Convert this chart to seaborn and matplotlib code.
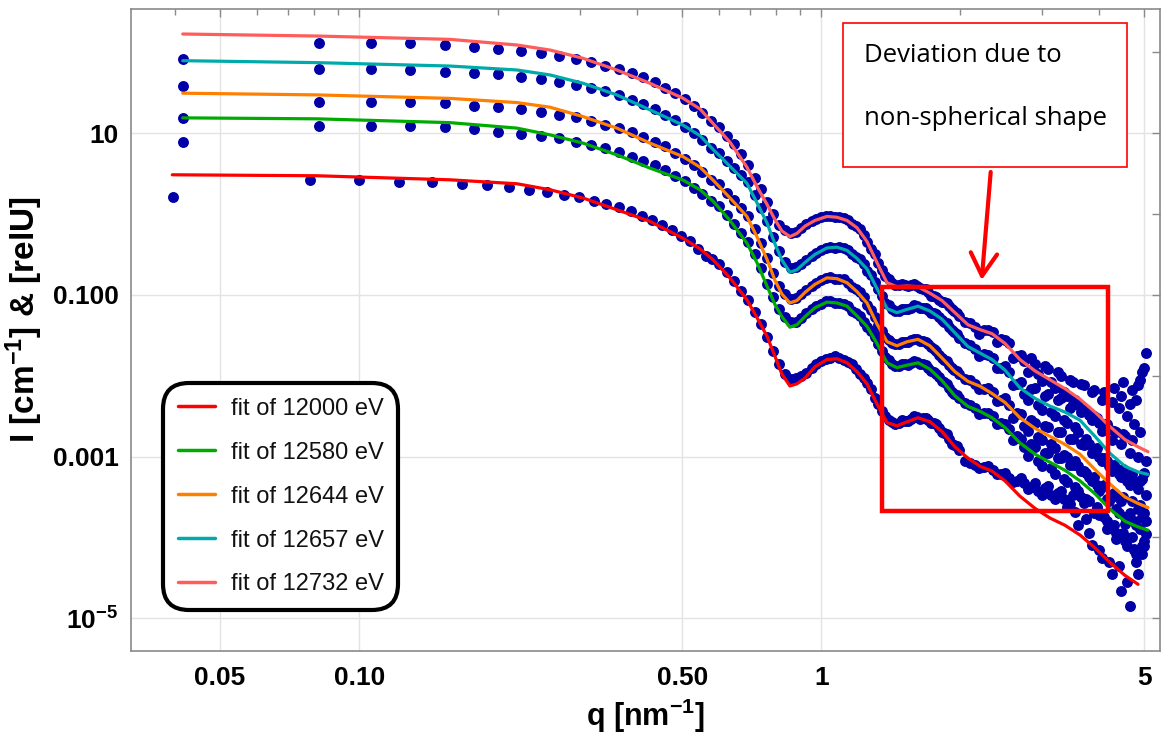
import numpy as np
import pandas as pd
import matplotlib
matplotlib.use("Agg")
import matplotlib.pyplot as plt
import seaborn as sns
from matplotlib.patches import Rectangle, FancyArrowPatch
from matplotlib.ticker import FixedLocator, FixedFormatter, NullFormatter

# ---------------- data ----------------
energies = ["12000", "12580", "12644", "12657", "12732"]
fit_labels = [f"fit of {e} eV" for e in energies]
fit_colors = ["#FF0000", "#00AA00", "#FF8000", "#00AAAA", "#FF5C5C"]

# fit curves: q [nm^-1] and log10(I)
fit_q = [0.0415, 0.0810, 0.157, 0.2195, 0.2587, 0.305, 0.361, 0.4257, 0.502, 0.5463,
         0.583, 0.6343, 0.6904, 0.7257, 0.763, 0.794, 0.822, 0.8555, 0.886, 0.922,
         0.969, 1.0287, 1.081, 1.137, 1.195, 1.256, 1.320, 1.388, 1.458, 1.533,
         1.620, 1.719, 1.825, 1.947, 2.078, 2.206, 2.342, 2.498, 2.692, 2.901,
         3.126, 3.370, 3.631, 3.913, 4.217, 4.544, 4.850, 5.095]
red_fit_q = [0.0394] + fit_q[1:47]

fit_red = [0.485, 0.473, 0.423, 0.374, 0.300, 0.198, 0.053, -0.091, -0.30, -0.43,
           -0.565, -0.79, -1.06, -1.28, -1.51, -1.76, -1.98, -2.127, -2.10, -2.03,
           -1.89, -1.80, -1.79, -1.84, -1.95, -2.10, -2.35, -2.58, -2.62, -2.57,
           -2.52, -2.57, -2.69, -2.88, -3.02, -3.12, -3.18, -3.30, -3.49, -3.64,
           -3.76, -3.85, -3.97, -4.13, -4.31, -4.47, -4.58]
fit_green = [1.189, 1.177, 1.13, 1.062, 0.979, 0.877, 0.732, 0.568, 0.42, 0.30,
             0.16, -0.08, -0.36, -0.60, -0.89, -1.12, -1.27, -1.40, -1.37, -1.27,
             -1.16, -1.09, -1.10, -1.14, -1.26, -1.39, -1.60, -1.84, -1.90, -1.87,
             -1.84, -1.92, -2.06, -2.25, -2.38, -2.44, -2.52, -2.64, -2.83, -2.97,
             -3.07, -3.17, -3.30, -3.46, -3.65, -3.80, -3.87, -3.91]
fit_orange = [1.494, 1.473, 1.43, 1.378, 1.321, 1.205, 1.062, 0.877, 0.71, 0.58,
              0.42, 0.20, -0.03, -0.28, -0.56, -0.82, -0.99, -1.10, -1.07, -0.97,
              -0.87, -0.79, -0.80, -0.85, -0.96, -1.10, -1.36, -1.58, -1.63, -1.58,
              -1.55, -1.63, -1.78, -1.95, -2.07, -2.13, -2.22, -2.33, -2.52, -2.65,
              -2.75, -2.85, -2.97, -3.16, -3.34, -3.50, -3.58, -3.63]
fit_cyan = [1.896, 1.872, 1.83, 1.781, 1.72, 1.617, 1.473, 1.288, 1.10, 0.97,
            0.80, 0.59, 0.38, 0.14, -0.11, -0.37, -0.57, -0.72, -0.69, -0.60,
            -0.50, -0.42, -0.41, -0.45, -0.55, -0.68, -0.92, -1.17, -1.22, -1.18,
            -1.14, -1.20, -1.30, -1.47, -1.64, -1.72, -1.80, -1.93, -2.15, -2.28,
            -2.375, -2.45, -2.55, -2.75, -2.96, -3.12, -3.19, -3.22]
fit_pink = [2.226, 2.201, 2.16, 2.09, 2.028, 1.926, 1.781, 1.617, 1.432, 1.30,
            1.12, 0.89, 0.58, 0.34, 0.12, -0.07, -0.21, -0.28, -0.24, -0.15,
            -0.08, -0.03, -0.04, -0.08, -0.17, -0.34, -0.60, -0.85, -0.90, -0.89,
            -0.90, -0.98, -1.07, -1.22, -1.37, -1.43, -1.48, -1.60, -1.80, -1.94,
            -2.05, -2.16, -2.29, -2.45, -2.63, -2.79, -2.88, -2.94]

# measured data points: q [nm^-1] and log10(I)
data_q = [0.0415, 0.0818, 0.106, 0.129, 0.153, 0.177, 0.200, 0.224, 0.247, 0.271,
          0.294, 0.318, 0.341, 0.365, 0.389, 0.412, 0.436, 0.459, 0.483, 0.506,
          0.530, 0.553, 0.577,
          0.600, 0.624, 0.647, 0.671, 0.694, 0.718, 0.741, 0.765, 0.788, 0.812,
          0.835, 0.859, 0.882, 0.906, 0.929, 0.953, 0.976, 1.000, 1.047, 1.094,
          1.141, 1.188, 1.235, 1.282, 1.329, 1.376, 1.423, 1.470, 1.517, 1.564,
          1.611, 1.658, 1.705, 1.752, 1.799, 1.846, 1.893, 1.940, 1.987,
          2.05, 2.15, 2.25, 2.35, 2.45, 2.55, 2.65, 2.75, 2.85, 2.95,
          3.05, 3.15, 3.25, 3.35, 3.45, 3.55, 3.65, 3.75, 3.85, 3.95,
          4.05, 4.15, 4.25, 4.35, 4.45, 4.55, 4.65, 4.75, 4.85, 4.95, 5.05,
          1.024, 1.071, 1.118, 1.165, 1.212, 1.259, 1.306, 1.353, 1.400, 1.447,
          1.494, 1.541, 1.588, 1.635, 1.682, 1.729, 1.776, 1.823, 1.870, 1.917, 1.964,
          2.10, 2.20, 2.30, 2.40, 2.50, 2.60, 2.70, 2.80, 2.90, 3.00,
          3.10, 3.20, 3.30, 3.40, 3.50, 3.60, 3.70, 3.80, 3.90, 4.00,
          4.10, 4.20, 4.30, 4.40, 4.50, 4.60, 4.70, 4.80, 4.90, 5.00]
red_data_q = [0.0395, 0.0781, 0.100, 0.122, 0.144, 0.1667, 0.1888, 0.2109, 0.2328,
              0.2547, 0.2773, 0.2992, 0.3221, 0.3428, 0.3656, 0.3873, 0.410, 0.4305,
              0.4529, 0.4742, 0.4966, 0.520, 0.542, 0.562, 0.581] + data_q[23:]

data_red = [0.214, 0.415, 0.415, 0.40, 0.39, 0.374, 0.353, 0.333, 0.300, 0.272,
            0.238, 0.205, 0.164, 0.123, 0.081, 0.032, -0.021, -0.079, -0.141, -0.202,
            -0.268, -0.338, -0.432, -0.515, -0.56,
            -0.62, -0.72, -0.83, -0.95, -1.06, -1.21, -1.36, -1.52, -1.70, -1.86,
            -1.98, -2.04, -2.03, -2.00, -1.97, -1.91, -1.86, -1.82, -1.78, -1.78,
            -1.83, -1.92, -2.03, -2.17, -2.35, -2.50, -2.57, -2.58, -2.56, -2.53,
            -2.51, -2.52, -2.55, -2.59, -2.65, -2.71, -2.78, -2.86, -2.92,
            -3.06, -3.11, -3.13, -3.16, -3.21, -3.27, -3.30, -3.33, -3.38, -3.43,
            -3.39, -3.48, -3.45, -3.53, -3.59, -3.68, -3.50, -3.77, -4.09, -3.65,
            -4.26, -3.90, -4.45, -4.02, -4.66, -3.83, -4.85, -4.14, -4.45, -4.20, -3.96,
            -1.79, -1.76, -1.81, -1.86, -1.98, -2.09, -2.27, -2.44, -2.55, -2.60,
            -2.55, -2.56, -2.50, -2.53, -2.52, -2.59, -2.60, -2.70, -2.72, -2.84, -2.87,
            -3.08, -3.14, -3.12, -3.22, -3.20, -3.31, -3.26, -3.40, -3.33, -3.47,
            -3.36, -3.52, -3.42, -3.62, -3.48, -3.85, -3.58, -3.95, -3.70, -4.15,
            -3.75, -4.30, -3.85, -4.35, -3.95, -4.55, -4.00, -4.30, -3.90, -4.10]
data_green = [0.893, 1.094, 1.094, 1.09, 1.07, 1.049, 1.020, 0.995, 0.967, 0.938,
              0.896, 0.856, 0.815, 0.765, 0.711, 0.659, 0.600, 0.538, 0.473, 0.402,
              0.321, 0.247, 0.156,
              0.10, -0.01, -0.12, -0.24, -0.35, -0.50, -0.67, -0.86, -1.03, -1.18,
              -1.28, -1.34, -1.33, -1.29, -1.23, -1.18, -1.14, -1.11, -1.08, -1.10,
              -1.14, -1.23, -1.33, -1.45, -1.61, -1.77, -1.85, -1.88, -1.86, -1.84,
              -1.83, -1.86, -1.90, -1.96, -2.02, -2.08, -2.15, -2.22, -2.28,
              -2.34, -2.40, -2.46, -2.50, -2.58, -2.66, -2.75, -2.88, -2.85, -3.05,
              -2.96, -3.14, -3.02, -3.28, -3.10, -3.38, -3.18, -3.52, -3.30, -3.62,
              -3.38, -3.80, -3.50, -3.95, -3.55, -4.05, -3.70, -4.15, -3.65, -4.10, -3.80,
              -1.08, -1.10, -1.11, -1.20, -1.26, -1.40, -1.52, -1.70, -1.80, -1.88,
              -1.85, -1.87, -1.82, -1.86, -1.87, -1.94, -1.98, -2.06, -2.10, -2.20, -2.24,
              -2.36, -2.47, -2.46, -2.60, -2.60, -2.80, -2.78, -2.99, -2.88, -3.12,
              -2.96, -3.22, -3.02, -3.32, -3.10, -3.42, -3.18, -3.55, -3.25, -3.72,
              -3.35, -3.88, -3.45, -4.00, -3.50, -4.10, -3.55, -4.20, -3.60, -4.05]
data_orange = [1.189, 1.39, 1.39, 1.38, 1.37, 1.341, 1.321, 1.296, 1.263, 1.226,
               1.198, 1.156, 1.106, 1.062, 1.012, 0.958, 0.896, 0.835, 0.760, 0.679,
               0.609, 0.514, 0.423,
               0.37, 0.26, 0.17, 0.07, -0.03, -0.19, -0.36, -0.54, -0.73, -0.89,
               -0.99, -1.05, -1.04, -0.99, -0.94, -0.89, -0.85, -0.82, -0.78, -0.80,
               -0.85, -0.93, -1.03, -1.19, -1.37, -1.52, -1.59, -1.61, -1.58, -1.56,
               -1.55, -1.57, -1.61, -1.67, -1.74, -1.80, -1.87, -1.93, -1.98,
               -2.04, -2.10, -2.16, -2.20, -2.30, -2.36, -2.46, -2.62, -2.55, -2.76,
               -2.62, -2.85, -2.70, -2.98, -2.78, -3.06, -2.85, -3.20, -2.95, -3.35,
               -3.05, -3.52, -3.18, -3.65, -3.25, -3.75, -3.35, -3.80, -3.40, -3.75, -3.48,
               -0.79, -0.80, -0.81, -0.90, -0.97, -1.12, -1.27, -1.45, -1.56, -1.61,
               -1.58, -1.58, -1.54, -1.57, -1.58, -1.65, -1.69, -1.78, -1.82, -1.91, -1.94,
               -2.05, -2.17, -2.15, -2.31, -2.28, -2.52, -2.47, -2.68, -2.58, -2.80,
               -2.64, -2.90, -2.70, -3.00, -2.78, -3.12, -2.86, -3.25, -2.92, -3.42,
               -3.02, -3.55, -3.10, -3.70, -3.15, -3.78, -3.22, -3.85, -3.30, -3.70]
data_cyan = [1.588, 1.790, 1.790, 1.78, 1.76, 1.748, 1.728, 1.699, 1.667, 1.633,
             1.600, 1.559, 1.519, 1.469, 1.415, 1.362, 1.300, 1.230, 1.164, 1.082,
             1.000, 0.918, 0.815,
             0.75, 0.66, 0.57, 0.48, 0.39, 0.23, 0.07, -0.09, -0.28, -0.46,
             -0.59, -0.67, -0.66, -0.62, -0.57, -0.52, -0.48, -0.45, -0.41, -0.41,
             -0.45, -0.53, -0.62, -0.76, -0.93, -1.10, -1.18, -1.20, -1.18, -1.16,
             -1.14, -1.16, -1.19, -1.23, -1.28, -1.33, -1.40, -1.46, -1.53,
             -1.60, -1.67, -1.73, -1.78, -1.90, -1.95, -2.10, -2.22, -2.16, -2.36,
             -2.25, -2.45, -2.30, -2.55, -2.40, -2.64, -2.45, -2.78, -2.55, -2.90,
             -2.68, -3.05, -2.80, -3.15, -2.85, -3.25, -2.95, -3.30, -3.00, -3.28, -3.05,
             -0.42, -0.42, -0.42, -0.50, -0.56, -0.70, -0.84, -1.02, -1.13, -1.20,
             -1.17, -1.18, -1.13, -1.16, -1.16, -1.22, -1.24, -1.31, -1.35, -1.44, -1.48,
             -1.62, -1.76, -1.74, -1.90, -1.88, -2.12, -2.08, -2.30, -2.15, -2.42,
             -2.22, -2.50, -2.28, -2.58, -2.35, -2.70, -2.42, -2.85, -2.50, -3.00,
             -2.60, -3.12, -2.68, -3.22, -2.72, -3.30, -2.80, -3.35, -2.70, -3.20]
data_pink = [1.917, 2.118, 2.118, 2.11, 2.09, 2.069, 2.044, 2.020, 1.988, 1.958,
             1.917, 1.880, 1.835, 1.794, 1.748, 1.691, 1.630, 1.563, 1.494, 1.420,
             1.341, 1.247, 1.152,
             1.07, 0.97, 0.87, 0.74, 0.61, 0.45, 0.31, 0.15, 0.00, -0.13,
             -0.20, -0.24, -0.22, -0.17, -0.12, -0.09, -0.06, -0.04, -0.02, -0.04,
             -0.08, -0.15, -0.26, -0.43, -0.60, -0.77, -0.85, -0.88, -0.88, -0.88,
             -0.89, -0.93, -0.97, -1.02, -1.06, -1.09, -1.14, -1.20, -1.26,
             -1.33, -1.40, -1.44, -1.46, -1.55, -1.60, -1.75, -1.82, -1.78, -1.98,
             -1.88, -2.08, -1.95, -2.20, -2.05, -2.30, -2.10, -2.42, -2.20, -2.52,
             -2.30, -2.60, -2.32, -2.70, -2.25, -2.75, -2.35, -2.60, -2.12, -1.95, -1.72,
             -0.02, -0.04, -0.05, -0.12, -0.19, -0.35, -0.50, -0.69, -0.80, -0.88,
             -0.86, -0.89, -0.86, -0.92, -0.93, -1.01, -1.03, -1.09, -1.10, -1.18, -1.22,
             -1.35, -1.48, -1.44, -1.58, -1.56, -1.78, -1.74, -1.95, -1.85, -2.06,
             -1.92, -2.15, -2.00, -2.25, -2.08, -2.36, -2.12, -2.48, -2.18, -2.58,
             -2.20, -2.66, -2.15, -2.40, -2.08, -2.50, -2.18, -2.30, -2.05, -1.90]

x_ticks = [0.05, 0.10, 0.50, 1, 5]
x_ticklabels = ["0.05", "0.10", "0.50", "1", "5"]
x_minor = [0.04, 0.06, 0.07, 0.08, 0.09, 0.2, 0.3, 0.4, 0.6, 0.7, 0.8, 0.9, 2, 3, 4]
y_ticks = [1e-5, 1e-3, 1e-1, 10]
y_ticklabels = ["$10^{-5}$", "0.001", "0.100", "10"]
y_minor = [1e-4, 1e-2, 1, 100]

# ---------------- tidy frames ----------------
fit_sets = [(red_fit_q, fit_red), (fit_q, fit_green), (fit_q, fit_orange),
            (fit_q, fit_cyan), (fit_q, fit_pink)]
fit_rows = []
for lab, (qs, ls) in zip(fit_labels, fit_sets):
    assert len(qs) == len(ls), lab
    for q, l in zip(qs, ls):
        fit_rows.append((lab, q, 10.0 ** l))
df_fit = pd.DataFrame(fit_rows, columns=["series", "q", "I"])

data_sets = [(red_data_q, data_red), (data_q, data_green), (data_q, data_orange),
             (data_q, data_cyan), (data_q, data_pink)]
data_rows = []
for e, (qs, ls) in zip(energies, data_sets):
    assert len(qs) == len(ls), (e, len(qs), len(ls))
    for q, l in zip(qs, ls):
        data_rows.append((e, q, 10.0 ** l))
df_data = pd.DataFrame(data_rows, columns=["energy", "q", "I"])

# ---------------- style ----------------
sns.set_theme(style="white")
plt.rcParams["font.family"] = ["Liberation Sans", "DejaVu Sans"]
plt.rcParams["mathtext.default"] = "regular"
plt.rcParams["text.color"] = "black"
plt.rcParams["axes.labelcolor"] = "black"
plt.rcParams["xtick.labelcolor"] = "black"
plt.rcParams["ytick.labelcolor"] = "black"
tick_family = ["Liberation Sans Narrow", "Liberation Sans", "DejaVu Sans"]

W, H = 1169, 735
fig = plt.figure(figsize=(W / 100, H / 100), dpi=100)
L, R, T, B = 131, 1160, 9, 651
ax = fig.add_axes([L / W, 1 - B / H, (R - L) / W, (B - T) / H])
ax.set_xscale("log")
ax.set_yscale("log")

sns.scatterplot(data=df_data, x="q", y="I", color="#0000A6", s=62, linewidth=0,
                ax=ax, legend=False, zorder=2)
sns.lineplot(data=df_fit, x="q", y="I", hue="series", hue_order=fit_labels,
             palette=dict(zip(fit_labels, fit_colors)), estimator=None, sort=True,
             linewidth=2.3, ax=ax, zorder=3)

ax.set_xlim(0.03207, 5.41)
ax.set_ylim(3.94e-6, 343)

ax.xaxis.set_major_locator(FixedLocator(x_ticks))
ax.xaxis.set_major_formatter(FixedFormatter(x_ticklabels))
ax.xaxis.set_minor_locator(FixedLocator(x_minor))
ax.xaxis.set_minor_formatter(NullFormatter())
ax.yaxis.set_major_locator(FixedLocator(y_ticks))
ax.yaxis.set_major_formatter(FixedFormatter(y_ticklabels))
ax.yaxis.set_minor_locator(FixedLocator(y_minor))
ax.yaxis.set_minor_formatter(NullFormatter())

ax.tick_params(which="both", direction="in", top=True, right=True,
               color="#8a8a8a", width=1, labelcolor="black")
ax.tick_params(which="major", length=6)
ax.tick_params(axis="x", which="major", pad=11)
ax.tick_params(axis="y", which="major", pad=9)
ax.tick_params(which="minor", length=4)
ax.yaxis.set_tick_params(which="minor", length=6)
for lab in ax.get_xticklabels() + ax.get_yticklabels():
    lab.set_fontfamily(tick_family)
    lab.set_fontweight("bold")
    lab.set_fontsize(19)

ax.grid(True, which="major", color="#e3e3e3", linewidth=1)
ax.set_axisbelow(True)
for sp in ax.spines.values():
    sp.set_color("#8a8a8a")
    sp.set_linewidth(1.2)

ax.set_xlabel("q [nm$^{-1}$]", fontsize=22, fontweight="bold", family=tick_family,
              color="black")
ax.set_ylabel("I [cm$^{-1}$] & [relU]", fontsize=24, fontweight="bold",
              family=tick_family, color="black")
ax.xaxis.set_label_coords((645 - L) / (R - L), -(697 - B) / (B - T))
ax.yaxis.set_label_coords((45 - L) / (R - L), 1 - (320 - T) / (B - T))

# legend
handles, labels = ax.get_legend_handles_labels()
leg = ax.legend(handles, labels, loc="upper left",
                bbox_to_anchor=(163 / W, 1 - 383 / H), bbox_transform=fig.transFigure,
                borderaxespad=0, frameon=True, fancybox=True, fontsize=17,
                handlelength=1.57, handletextpad=0.68, labelspacing=0.93,
                borderpad=0.62, framealpha=1)
leg.get_frame().set_boxstyle("round", pad=0.0, rounding_size=1.1)
leg.get_frame().set_edgecolor("black")
leg.get_frame().set_linewidth(3)
leg.set_zorder(10)
for ln in leg.get_lines():
    ln.set_linewidth(2.5)
for t in leg.get_texts():
    t.set_color("#111111")

# highlighted region
box_q0, box_q1 = 1.353, 4.174
box_i0, box_i1 = 2.11e-4, 0.1265
ax.add_patch(Rectangle((box_q0, box_i0), box_q1 - box_q0, box_i1 - box_i0,
                       fill=False, edgecolor="#FF0000", linewidth=3.2, zorder=6))

# annotation text box and arrow
fig.add_artist(Rectangle((843 / W, 1 - 167 / H), (1127 - 843) / W, (167 - 23) / H,
                         transform=fig.transFigure, facecolor="white",
                         edgecolor="#FF0000", linewidth=1.2, zorder=7))
fig.text(864 / W, 1 - 62 / H, "Deviation due to", fontsize=18.5,
         family=["Open Sans", "DejaVu Sans"], va="baseline", ha="left", zorder=8)
fig.text(864 / W, 1 - 125 / H, "non-spherical shape", fontsize=18.5,
         family=["Open Sans", "DejaVu Sans"], va="baseline", ha="left", zorder=8)
fig.add_artist(FancyArrowPatch((990.7 / W, 1 - 172 / H), (981.7 / W, 1 - 280 / H),
                               transform=fig.transFigure,
                               arrowstyle="->,head_length=0.65,head_width=0.38",
                               mutation_scale=25, color="#FF0000", linewidth=3,
                               shrinkA=0, shrinkB=0, zorder=8))

fig.savefig("out.png", dpi=100)
